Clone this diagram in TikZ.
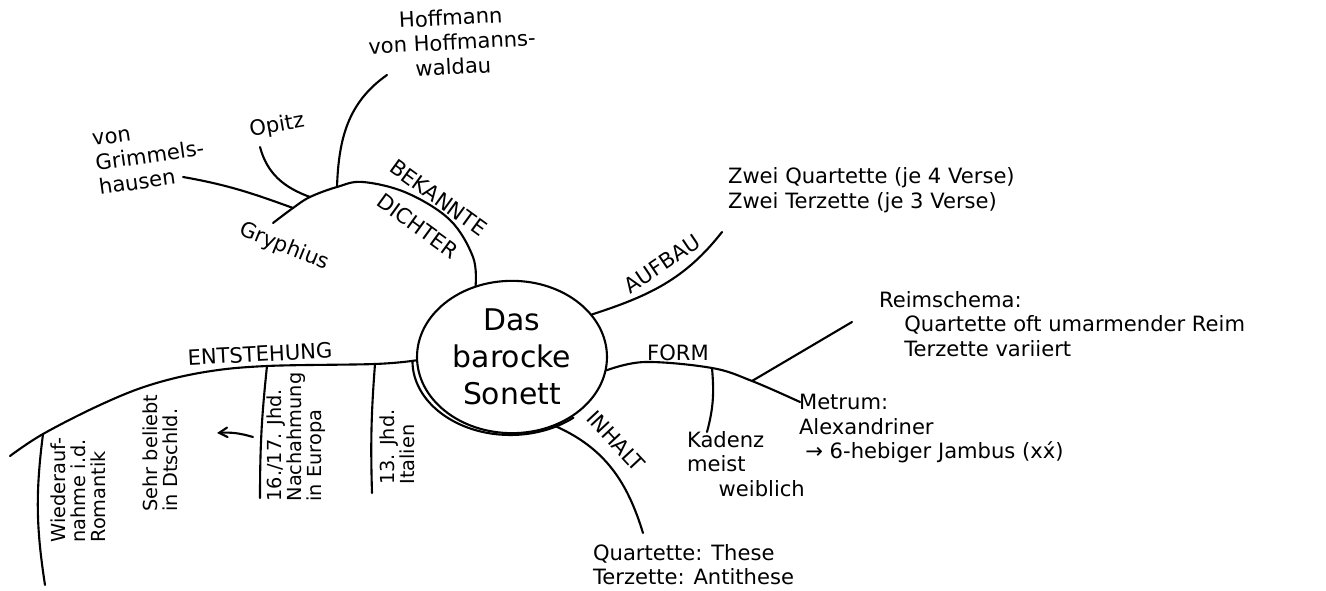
\documentclass[tikz,border=0pt]{standalone}
\usepackage{fontspec}
\setmainfont{DejaVu Sans}
\usetikzlibrary{arrows}
\usetikzlibrary{shapes}

\begin{document}
\begin{tikzpicture}[x=0.02cm, y=-0.02cm, line width=1.2pt, line cap=round,
        leaf/.style={font=\fontsize{12}{14}\selectfont, align=left, inner sep=0pt},
        turned/.style={font=\fontsize{11}{11.5}\selectfont, align=left, inner sep=0pt, rotate=90},
        topic/.style={font=\fontsize{12}{14}\selectfont, inner sep=0pt}]
        \useasboundingbox (0,0) rectangle (1326,591);

        % centre
        \node[draw, ellipse, minimum width=3.8cm, minimum height=2.85cm, align=center,
            font=\fontsize{17}{21}\selectfont] at (512,357) (sonett) {Das\\barocke\\Sonett};
        \draw ([xshift=-0.07cm, yshift=-0.08cm]sonett.west) arc[start angle=180, end angle=310, x radius=1.96cm, y radius=1.48cm];

        % entstehung
        \coordinate (e13) at (375,364);
        \coordinate (e16) at (267,366);
        \coordinate (e1) at (205,372);
        \coordinate (e2) at (150,385);
        \coordinate (e3) at (100,405);
        \coordinate (ew) at (43,434);
        \coordinate (e0) at (10,456);
        \draw plot[smooth, tension=0.6] coordinates {(sonett.182) (e13) (e16) (e1) (e2) (e3) (ew) (e0)};
        \node[topic, rotate=3] at (260,354) (entst) {ENTSTEHUNG};
        \coordinate (e13b) at (372,493);
        \coordinate (e16b) at (260,498);
        \coordinate (ewb) at (45,585);
        \draw (e13) to[bend right=3] (e13b);
        \draw (e16) to[bend right=3] (e16b);
        \draw (ew) to[bend right=8] (ewb);
        \node[turned] at (397,447) (italien) {13. Jhd.\\Italien};
        \node[turned] at (296,437) (europa) {16./17. Jhd.\\Nachahmung\\in Europa};
        \node[turned] at (160,453) (dtschld) {Sehr beliebt\\in Dtschld.};
        \node[turned] at (78,490) (romantik) {Wiederauf-\\nahme i.d.\\Romantik};
        \coordinate (arrS) at (253,437);
        \coordinate (arrE) at (217,433);
        \draw[-angle 60] (arrS) to[bend right=10] (arrE);

        % bekannte dichter
        \coordinate (b1) at (473,257);
        \coordinate (b2) at (450,220);
        \coordinate (b3) at (407,193);
        \coordinate (bpeak) at (363,182);
        \coordinate (bh) at (337,187);
        \coordinate (bo) at (310,197);
        \coordinate (bg) at (293,208);
        \coordinate (bend) at (273,223);
        \draw plot[smooth, tension=0.6] coordinates {(sonett.117) (b1) (b2) (b3) (bpeak) (bh) (bo) (bg) (bend)};
        \node[topic, align=center, rotate=-36, font=\fontsize{12}{20}\selectfont] at (428,212) (bek) {BEKANNTE\\DICHTER};
        \coordinate (hoff) at (387,75);
        \coordinate (opi) at (260,147);
        \coordinate (grim) at (183,177);
        \draw (bh) to[out=88,in=215] (hoff);
        \draw (bo) to[out=160,in=-75] (opi);
        \draw (bg) to[out=160,in=-10] (grim);
        \node[leaf, align=center, rotate=3] at (452,42) (hofftxt) {Hoffmann\\von Hoffmanns-\\waldau};
        \node[leaf, rotate=10] at (277,126) (opitxt) {Opitz};
        \node[leaf, rotate=8] at (150,157) (grimtxt) {von\\Grimmels-\\hausen};
        \node[leaf, rotate=-22] at (284,247) (gryph) {Gryphius};

        % aufbau
        \coordinate (auf) at (722,232);
        \draw (sonett.28) to[out=18,in=232] (auf);
        \node[topic, rotate=34] at (662,264) (aufbau) {AUFBAU};
        \node[leaf, anchor=west] at (727,190) (auftxt) {Zwei Quartette (je 4 Verse)\\Zwei Terzette (je 3 Verse)};

        % form
        \coordinate (f1) at (645,362);
        \coordinate (fk) at (712,368);
        \coordinate (fr) at (752,381);
        \coordinate (fm) at (800,402);
        \draw plot[smooth, tension=0.6] coordinates {(sonett.-8) (f1) (fk) (fr) (fm)};
        \node[topic] at (678,353) (form) {FORM};
        \coordinate (reim) at (852,322);
        \coordinate (kad) at (707,432);
        \draw (fr) -- (reim);
        \draw (fk) to[out=-85,in=75] (kad);
        \node[leaf, anchor=north west] at (878,290) (reimtxt) {Reimschema:\\\hspace*{1.2em}Quartette oft umarmender Reim\\\hspace*{1.2em}Terzette variiert};
        \node[leaf, anchor=north west] at (798,393) (metrtxt) {Metrum:\\Alexandriner\\\hspace*{0.3em}→ 6-hebiger Jambus (x\'x)};
        \node[leaf, anchor=north west] at (686,430) (kadtxt) {Kadenz\\meist\\\hspace*{1.5em}weiblich};

        % inhalt
        \coordinate (inh) at (643,533);
        \draw (sonett.-58) to[out=-24,in=107] (inh);
        \node[topic, rotate=-47] at (616,441) (inhalt) {INHALT};
        \node[leaf, anchor=north west] at (592,543) (inhtxt) {Quartette: These\\Terzette: Antithese};
    \end{tikzpicture}
\end{document}
